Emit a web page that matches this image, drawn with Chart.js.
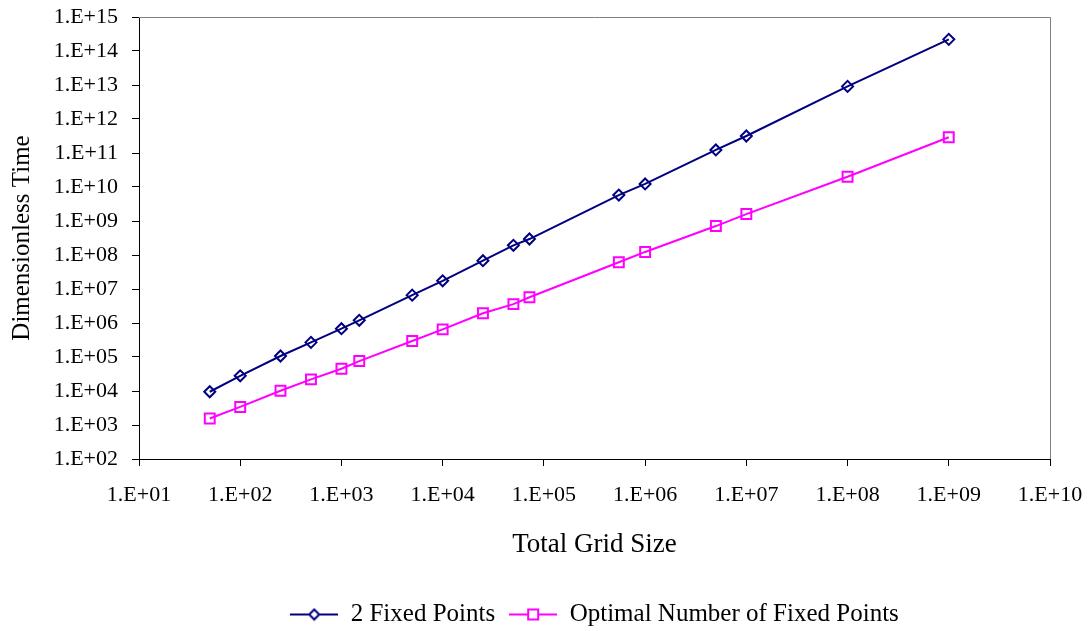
<!DOCTYPE html>
<html>
<head>
<meta charset="utf-8">
<script src="https://cdn.jsdelivr.net/npm/chart.js@4.4.1/dist/chart.umd.min.js"></script>
<style>
  html, body { margin: 0; padding: 0; background: #fff; }
</style>
</head>
<body>
<canvas id="chart" width="1092" height="631"></canvas>
<script>
var gridSizes = [50, 100, 250, 500, 1000, 1500, 5000, 10000, 25000, 50000, 72000, 550000, 1e6, 5e6, 1e7, 1e8, 1e9];
var timeTwoFixed = [9.5e3, 2.8e4, 1.07e5, 2.7e5, 6.8e5, 1.2e6, 6.6e6, 1.74e7, 6.8e7, 1.93e8, 2.95e8, 5.8e9, 1.23e10, 1.23e11, 3.16e11, 9.1e12, 2.2e14];
var timeOptimal = [1.55e3, 3.4e3, 1.02e4, 2.2e4, 4.5e4, 7.6e4, 2.96e5, 6.5e5, 1.93e6, 3.6e6, 5.7e6, 6.1e7, 1.23e8, 7.1e8, 1.6e9, 2.0e10, 2.9e11];
var xTickExps = [1, 2, 3, 4, 5, 6, 7, 8, 9, 10];
var yTickExps = [2, 3, 4, 5, 6, 7, 8, 9, 10, 11, 12, 13, 14, 15];
var seriesNames = ['2 Fixed Points', 'Optimal Number of Fixed Points'];

(function() {
    var FONT = '"Liberation Serif", "Times New Roman", serif';
    var NAVY = '#000080';
    var MAGENTA = '#FF00FF';

    function toPoints(xs, ys) {
        return xs.map(function(x, i) { return { x: x, y: ys[i] }; });
    }

    function expLabel(v) {
        var e = Math.round(Math.log10(v));
        return '1.E+' + (e < 10 ? '0' + e : e);
    }

    // little line + marker picture for the legend, like the spreadsheet one
    function legendSwatch(color, shape) {
        var c = document.createElement('canvas');
        c.width = 48;
        c.height = 14;
        var ctx = c.getContext('2d');
        ctx.strokeStyle = color;
        ctx.lineWidth = 2;
        ctx.beginPath();
        ctx.moveTo(0, 7);
        ctx.lineTo(48, 7);
        ctx.stroke();
        ctx.fillStyle = '#fff';
        ctx.beginPath();
        if (shape === 'diamond') {
            ctx.moveTo(24, 2); ctx.lineTo(29, 7); ctx.lineTo(24, 12); ctx.lineTo(19, 7); ctx.closePath();
        } else {
            ctx.rect(19, 2, 10, 10);
        }
        ctx.fill();
        ctx.stroke();
        return c;
    }

    var swatches = [legendSwatch(NAVY, 'diamond'), legendSwatch(MAGENTA, 'square')];

    var plotFrame = {
        id: 'plotFrame',
        afterLayout: function(chart) {
            var l = chart.legend, a = chart.chartArea;
            var shift = (a.left + a.right) / 2 - (l.left + l.right) / 2;
            l.left += shift;
            l.right += shift;
            l.top += 6;
            l.bottom += 6;
        },
        beforeDatasetsDraw: function(chart) {
            var a = chart.chartArea, ctx = chart.ctx;
            ctx.save();
            ctx.strokeStyle = '#808080';
            ctx.lineWidth = 1;
            ctx.beginPath();
            ctx.moveTo(a.left, a.top + 0.5);
            ctx.lineTo(a.right + 0.5, a.top + 0.5);
            ctx.lineTo(a.right + 0.5, a.bottom);
            ctx.stroke();
            ctx.restore();
        }
    };

    new Chart(document.getElementById('chart').getContext('2d'), {
        type: 'scatter',
        data: {
            datasets: [{
                label: seriesNames[0],
                data: toPoints(gridSizes, timeTwoFixed),
                showLine: true,
                borderColor: NAVY,
                borderWidth: 2,
                pointStyle: 'rectRot',
                pointRadius: 5.5,
                pointBorderWidth: 2,
                pointBorderColor: NAVY,
                pointBackgroundColor: 'rgba(0,0,0,0)'
            }, {
                label: seriesNames[1],
                data: toPoints(gridSizes, timeOptimal),
                showLine: true,
                borderColor: MAGENTA,
                borderWidth: 2,
                pointStyle: 'rect',
                pointRadius: 7,
                pointBorderWidth: 2,
                pointBorderColor: MAGENTA,
                pointBackgroundColor: 'rgba(0,0,0,0)'
            }]
        },
        options: {
            responsive: false,
            animation: false,
            layout: { padding: { left: 0, right: 42, top: 17, bottom: 0 } },
            plugins: {
                tooltip: { enabled: false },
                legend: {
                    position: 'bottom',
                    labels: {
                        usePointStyle: true,
                        pointStyleWidth: 48,
                        padding: 14,
                        color: '#000',
                        font: { family: FONT, size: 25 },
                        generateLabels: function(chart) {
                            return chart.data.datasets.map(function(ds, i) {
                                return {
                                    text: ds.label,
                                    pointStyle: swatches[i],
                                    fillStyle: 'transparent',
                                    strokeStyle: 'transparent',
                                    lineWidth: 0,
                                    fontColor: '#000',
                                    datasetIndex: i
                                };
                            });
                        }
                    }
                }
            },
            scales: {
                x: {
                    type: 'logarithmic',
                    min: 1e1,
                    max: 1e10,
                    afterBuildTicks: function(s) {
                        s.ticks = xTickExps.map(function(e) { return { value: Math.pow(10, e) }; });
                    },
                    afterFit: function(s) {
                        s.height = 123;
                        s.paddingLeft = 0;
                        s.paddingRight = 0;
                    },
                    ticks: {
                        callback: expLabel,
                        color: '#000',
                        padding: 16,
                        maxRotation: 0,
                        autoSkip: false,
                        font: { family: FONT, size: 22 }
                    },
                    grid: { drawOnChartArea: false, drawTicks: true, tickLength: 7, color: '#000' },
                    border: { color: '#000', width: 1 },
                    title: {
                        display: true,
                        text: 'Total Grid Size',
                        color: '#000',
                        font: { family: FONT, size: 27 },
                        padding: { top: 0, bottom: 21 }
                    }
                },
                y: {
                    type: 'logarithmic',
                    min: 1e2,
                    max: 1e15,
                    afterBuildTicks: function(s) {
                        s.ticks = yTickExps.map(function(e) { return { value: Math.pow(10, e) }; });
                    },
                    afterFit: function(s) {
                        s.width = 139;
                        s.paddingTop = 0;
                        s.paddingBottom = 0;
                    },
                    ticks: {
                        callback: expLabel,
                        color: '#000',
                        padding: 14,
                        autoSkip: false,
                        font: { family: FONT, size: 22 }
                    },
                    grid: { drawOnChartArea: false, drawTicks: true, tickLength: 7, color: '#000' },
                    border: { color: '#000', width: 1 },
                    title: {
                        display: true,
                        text: 'Dimensionless Time',
                        color: '#000',
                        font: { family: FONT, size: 25 },
                        padding: { top: 7, bottom: 0 }
                    }
                }
            }
        },
        plugins: [plotFrame]
    });
})();
</script>
</body>
</html>
